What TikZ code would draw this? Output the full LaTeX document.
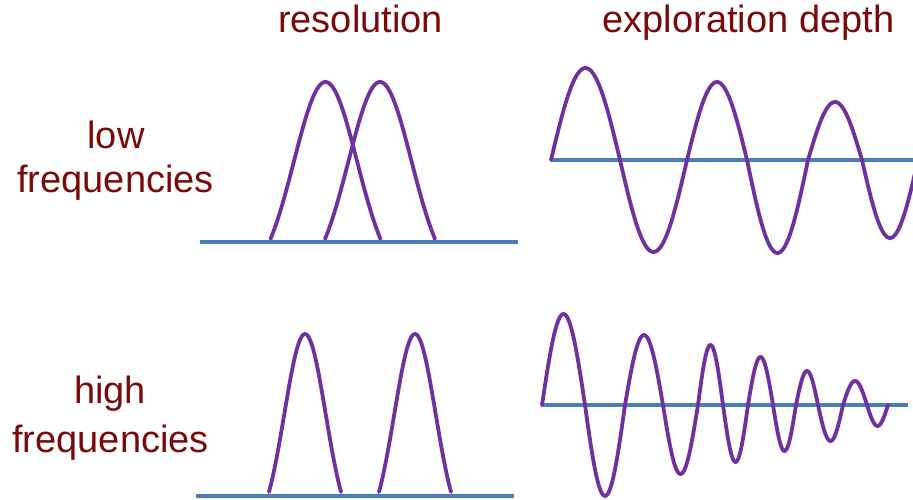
\documentclass[tikz,border=0pt]{standalone}
\usepackage{fontspec}
\setmainfont{Liberation Sans}
\definecolor{txtred}{RGB}{122,10,10}
\definecolor{axisblue}{HTML}{4A7EBB}
\definecolor{wavepurple}{HTML}{7030A0}
\tikzset{
  label/.style={anchor=base, inner sep=0pt, text=txtred, font=\fontsize{38}{44}\selectfont},
  axisline/.style={draw=axisblue, line width=3.8pt},
  wave/.style={draw=wavepurple, line width=3.8pt, line cap=round, line join=round},
}
\begin{document}
\begin{tikzpicture}[x=1pt,y=-1pt]
\useasboundingbox (0,0) rectangle (913,500);
% labels
\node[label] (res) at (360.5,33) {resolution};
\node[label] (depth) at (748.5,33) {exploration depth};
\node[label] (low) at (116,148.5) {low};
\node[label] (lowf) at (115.5,192.5) {frequencies};
\node[label] (high) at (110,403) {high};
\node[label] (highf) at (110.5,452) {frequencies};
% axis lines
\coordinate (a1) at (200,242); \coordinate (a2) at (518,242);
\coordinate (b1) at (551,160); \coordinate (b2) at (913,160);
\coordinate (c1) at (196,496); \coordinate (c2) at (514,496);
\coordinate (d1) at (541,405); \coordinate (d2) at (908,405);
\draw[axisline] (a1) -- (a2);
\draw[axisline] (b1) -- (b2);
\draw[axisline] (c1) -- (c2);
\draw[axisline] (d1) -- (d2);
% bells (truncated gaussians)
\pgfmathsetmacro{\kk}{1.75}
\pgfmathsetmacro{\ee}{exp(-\kk*\kk/2)}
\foreach \xc/\hw/\yf/\yp in {325.5/55/239/82, 380/55/239/82, 305/36/492/334, 415/36/492/334}{
  \draw[wave] plot[domain=-\kk:\kk, samples=60, smooth]
    ({\xc+\x*\hw/\kk}, {\yf-(\yf-\yp)*(exp(-\x*\x/2)-\ee)/(1-\ee)});
}
% low-frequency wave
\begin{scope}
\clip (540,40) rectangle (913,280);
\foreach \a/\b/\A in {551/620/92, 620/687/-92, 687/747/78, 747/808/-93, 808/862/58, 862/918/-78}{
  \draw[wave] plot[domain=\a:\b, samples=40, smooth] (\x, {160-\A*sin(180*(\x-\a)/(\b-\a))});
}
\end{scope}
% high-frequency damped wave
\foreach \a/\b/\A in {542/585/91, 585/625/-91, 625/663/70, 663/698/-69, 698/723/60, 723/748/-57, 748/773/48, 773/796/-46, 796/818/34, 818/843/-36, 843/867/24, 867/888/-21}{
  \draw[wave] plot[domain=\a:\b, samples=30, smooth] (\x, {405-\A*sin(180*(\x-\a)/(\b-\a))});
}
\end{tikzpicture}
\end{document}
